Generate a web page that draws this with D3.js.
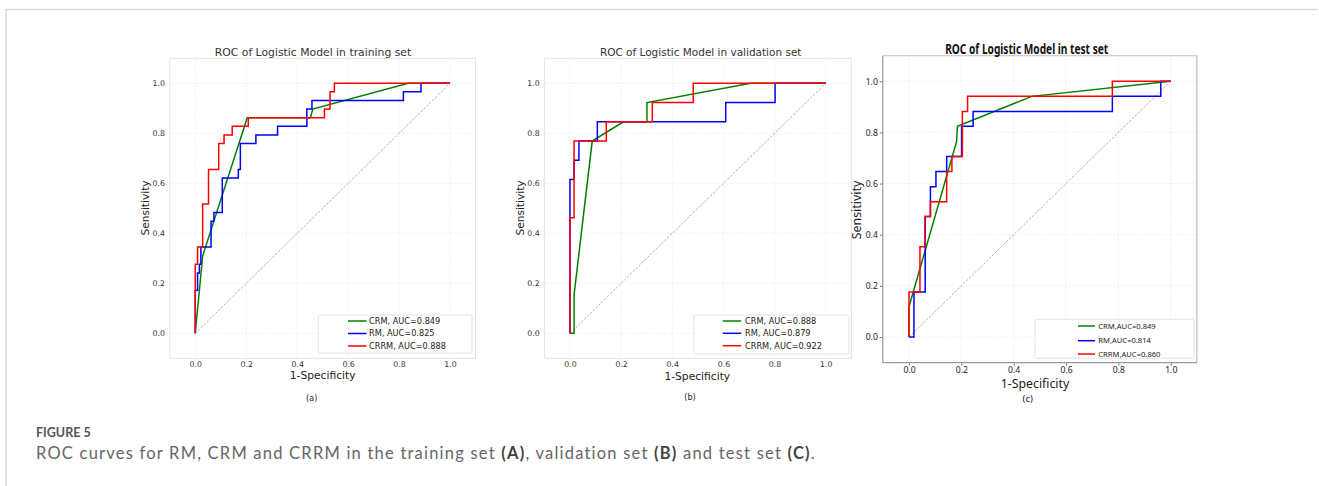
<!DOCTYPE html>
<html>
<head>
<meta charset="utf-8">
<script src="https://cdn.jsdelivr.net/npm/d3@7"></script>
<style>
  body { margin: 0; background: #fff; }
  svg { display: block; }
</style>
</head>
<body>
<div id="chart"></div>
<script>
// ---------------- data (fpr, tpr) ----------------
const tickValues = [0, 0.2, 0.4, 0.6, 0.8, 1.0];
const seriesNames = ["CRM", "RM", "CRRM"];

// (a) training set
const trainCRM = [[0,0],[0.029,0.31],[0.204,0.862],[0.452,0.862],[0.461,0.897],[0.836,1],[1,1]];
const trainRM = [[0,0],[0,0.172],[0.009,0.172],[0.009,0.241],[0.016,0.241],[0.016,0.276],[0.022,0.276],
  [0.022,0.345],[0.062,0.345],[0.062,0.448],[0.073,0.448],[0.073,0.483],[0.106,0.483],[0.106,0.621],
  [0.169,0.621],[0.169,0.655],[0.177,0.655],[0.177,0.759],[0.238,0.759],[0.238,0.793],[0.323,0.793],
  [0.323,0.828],[0.438,0.828],[0.438,0.897],[0.458,0.897],[0.458,0.931],[0.817,0.931],[0.817,0.966],
  [0.886,0.966],[0.886,1],[1,1]];
const trainCRRM = [[0,0],[0,0.276],[0.009,0.276],[0.009,0.345],[0.029,0.345],[0.029,0.517],[0.052,0.517],
  [0.052,0.655],[0.092,0.655],[0.092,0.759],[0.113,0.759],[0.113,0.793],[0.145,0.793],[0.145,0.828],
  [0.208,0.828],[0.208,0.862],[0.507,0.862],[0.507,0.897],[0.529,0.897],[0.529,0.966],[0.546,0.966],
  [0.546,1],[1,1]];
const trainLegend = ["CRM, AUC=0.849", "RM, AUC=0.825", "CRRM, AUC=0.888"];

// (b) validation set
const validCRM = [[0,0],[0.016,0],[0.016,0.154],[0.087,0.769],[0.209,0.846],[0.301,0.846],[0.301,0.923],[0.707,1],[1,1]];
const validRM = [[0,0],[0,0.615],[0.016,0.615],[0.016,0.692],[0.035,0.692],[0.035,0.769],[0.107,0.769],
  [0.107,0.846],[0.609,0.846],[0.609,0.923],[0.802,0.923],[0.802,1],[1,1]];
const validCRRM = [[0,0],[0,0.462],[0.016,0.462],[0.016,0.769],[0.142,0.769],[0.142,0.846],[0.322,0.846],
  [0.322,0.923],[0.482,0.923],[0.482,1],[1,1]];
const validLegend = ["CRM, AUC=0.888", "RM, AUC=0.879", "CRRM, AUC=0.922"];

// (c) test set
const testCRM = [[0,0],[0,0.118],[0.182,0.765],[0.185,0.824],[0.469,0.941],[1,1]];
const testRM = [[0,0],[0.019,0],[0.019,0.176],[0.062,0.176],[0.062,0.471],[0.082,0.471],[0.082,0.588],
  [0.103,0.588],[0.103,0.647],[0.144,0.647],[0.144,0.706],[0.201,0.706],[0.201,0.824],[0.245,0.824],
  [0.245,0.882],[0.777,0.882],[0.777,0.941],[0.962,0.941],[0.962,1],[1,1]];
const testCRRM = [[0,0],[0,0.176],[0.042,0.176],[0.042,0.353],[0.061,0.353],[0.061,0.471],[0.082,0.471],
  [0.082,0.529],[0.144,0.529],[0.144,0.647],[0.164,0.647],[0.164,0.706],[0.204,0.706],[0.204,0.882],
  [0.224,0.882],[0.224,0.941],[0.777,0.941],[0.777,1],[1,1]];
const testLegend = ["CRM,AUC=0.849", "RM,AUC=0.814", "CRRM,AUC=0.860"];

const colors = ["#008000", "#0000ff", "#ff0000"];

// ---------------- layout ----------------
const width = 1319, height = 486;

const panels = [
  {
    title: "ROC of Logistic Model in training set", tag: "(a)", style: "mpl",
    series: [trainCRM, trainRM, trainCRRM], legend: trainLegend,
    box: { left: 169.8, right: 475.5, top: 58.3, bottom: 358.3 },
    titlePos: [313, 55.5], titleW: 196.7,
    xLabelPos: [322.7, 379.3], yLabelPos: [148.5, 208], tagPos: [311.7, 400.5],
    leg: { x0: 318.3, x1: 472, y0: 315, y1: 353, lineX: 348, textX: 369, rows: [321, 333.5, 346] }
  },
  {
    title: "ROC of Logistic Model in validation set", tag: "(b)", style: "mpl",
    series: [validCRM, validRM, validCRRM], legend: validLegend,
    box: { left: 544.4, right: 851.3, top: 58.3, bottom: 358.3 },
    titlePos: [700.7, 55.5], titleW: 201.7,
    xLabelPos: [697.3, 380], yLabelPos: [523.5, 208], tagPos: [690, 399.5],
    leg: { x0: 694, x1: 849, y0: 315, y1: 354, lineX: 722.7, textX: 745, rows: [321, 333.3, 345.7] }
  },
  {
    title: "ROC of Logistic Model in test set", tag: "(c)", style: "win",
    series: [testCRM, testRM, testCRRM], legend: testLegend,
    box: { left: 882.8, right: 1196.9, top: 55.7, bottom: 362.6 },
    titlePos: [1026.7, 54], titleW: 163,
    xLabelPos: [1035, 387.5], yLabelPos: [861, 210], tagPos: [1027.7, 402],
    leg: { x0: 1035, x1: 1194, y0: 319.3, y1: 358.3, lineX: 1078, textX: 1098.3, rows: [326, 340.7, 354] }
  }
];

const svg = d3.select("#chart").append("svg")
  .attr("width", width)
  .attr("height", height);

// scale a text's font-size so it spans the width seen in the figure
function fitWidth(sel, target) {
  const w = sel.node().getComputedTextLength();
  if (w > 0) sel.attr("font-size", +sel.attr("font-size") * target / w);
}

// outer page frame
svg.append("line").attr("x1", 6).attr("x2", 1318).attr("y1", 9.5).attr("y2", 9.5)
  .attr("stroke", "#d9d9d9").attr("stroke-width", 1.5);
svg.append("line").attr("x1", 6).attr("x2", 6).attr("y1", 9).attr("y2", 486)
  .attr("stroke", "#cfcfcf").attr("stroke-width", 1.2);

panels.forEach(p => drawPanel(p));

function drawPanel(p) {
  const mpl = p.style === "mpl";
  const font = mpl ? "DejaVu Sans" : "Noto Sans";
  const b = p.box;

  const x = d3.scaleLinear().domain([-0.1, 1.1]).range([b.left, b.right]);
  const y = d3.scaleLinear().domain([-0.1, 1.1]).range([b.bottom, b.top]);

  const g = svg.append("g");

  // grid
  g.append("g").selectAll("line").data(tickValues).join("line")
    .attr("x1", d => x(d)).attr("x2", d => x(d))
    .attr("y1", b.top).attr("y2", b.bottom)
    .attr("stroke", "#ebebeb").attr("stroke-width", 0.8).attr("stroke-dasharray", "1.5,1.5");
  g.append("g").selectAll("line").data(tickValues).join("line")
    .attr("x1", b.left).attr("x2", b.right)
    .attr("y1", d => y(d)).attr("y2", d => y(d))
    .attr("stroke", "#ebebeb").attr("stroke-width", 0.8).attr("stroke-dasharray", "1.5,1.5");

  // axes
  const fmt = d3.format(".1f");
  const xAxis = g.append("g").attr("transform", `translate(0,${b.bottom})`)
    .call(d3.axisBottom(x).tickValues(tickValues).tickFormat(fmt).tickSize(mpl ? 0 : 3).tickPadding(mpl ? 3.5 : 1.5));
  const yAxis = g.append("g").attr("transform", `translate(${b.left},0)`)
    .call(d3.axisLeft(y).tickValues(tickValues).tickFormat(fmt).tickSize(mpl ? 0 : 3).tickPadding(mpl ? 4.8 : 2));
  [xAxis, yAxis].forEach(a => {
    a.select(".domain").remove();
    a.selectAll("line").attr("stroke", "#777");
    a.selectAll("text")
      .attr("font-family", font)
      .attr("font-size", mpl ? 7.8 : 8.6)
      .attr("fill", mpl ? "#333" : "#222");
  });

  // axes box
  const spineLight = mpl ? "#e3e3e3" : "#cfcfcf";
  const spineDark = mpl ? "#e3e3e3" : "#999";
  const sw = mpl ? 1 : 1.2;
  g.append("line").attr("x1", b.left).attr("x2", b.right).attr("y1", b.top).attr("y2", b.top)
    .attr("stroke", spineLight).attr("stroke-width", sw);
  g.append("line").attr("x1", b.right).attr("x2", b.right).attr("y1", b.top).attr("y2", b.bottom)
    .attr("stroke", mpl ? spineLight : "#bbb").attr("stroke-width", sw);
  g.append("line").attr("x1", b.left).attr("x2", b.right).attr("y1", b.bottom).attr("y2", b.bottom)
    .attr("stroke", spineDark).attr("stroke-width", sw);
  g.append("line").attr("x1", b.left).attr("x2", b.left).attr("y1", b.top).attr("y2", b.bottom)
    .attr("stroke", spineDark).attr("stroke-width", sw);

  // chance diagonal
  g.append("line")
    .attr("x1", x(0)).attr("y1", y(0)).attr("x2", x(1)).attr("y2", y(1))
    .attr("stroke", "#9a9a9a").attr("stroke-width", 0.8).attr("stroke-dasharray", "2.5,1.5");

  // ROC curves
  const line = d3.line().x(d => x(d[0])).y(d => y(d[1]));
  p.series.forEach((s, i) => {
    g.append("path")
      .datum(s)
      .attr("d", line)
      .attr("fill", "none")
      .attr("stroke", colors[i])
      .attr("stroke-width", 1.5)
      .attr("stroke-linejoin", "miter");
  });

  // legend
  const L = p.leg;
  g.append("rect")
    .attr("x", L.x0).attr("y", L.y0)
    .attr("width", L.x1 - L.x0).attr("height", L.y1 - L.y0)
    .attr("fill", "#fff").attr("stroke", "#dcdcdc").attr("stroke-width", 0.8).attr("rx", 1.5);
  p.legend.forEach((t, i) => {
    g.append("line")
      .attr("x1", L.lineX).attr("x2", L.lineX + (mpl ? 18.5 : 17))
      .attr("y1", L.rows[i]).attr("y2", L.rows[i])
      .attr("stroke", colors[i]).attr("stroke-width", 1.5);
    g.append("text")
      .attr("x", L.textX).attr("y", L.rows[i]).attr("dy", "0.35em")
      .attr("font-family", font).attr("font-size", mpl ? 8.2 : 7.6)
      .attr("fill", "#222")
      .text(t);
  });

  // titles and labels
  const title = g.append("text")
    .attr("x", p.titlePos[0]).attr("y", p.titlePos[1])
    .attr("text-anchor", "middle")
    .attr("font-family", font)
    .attr("font-size", mpl ? 10.8 : 14)
    .attr("font-weight", mpl ? "normal" : "bold")
    .attr("fill", mpl ? "#333" : "#111")
    .text(p.title);
  if (mpl) {
    fitWidth(title, p.titleW);
  } else {
    // condensed heading in the original: squeeze glyphs to the measured width
    title.attr("textLength", p.titleW).attr("lengthAdjust", "spacingAndGlyphs");
  }

  g.append("text")
    .attr("x", p.xLabelPos[0]).attr("y", p.xLabelPos[1])
    .attr("text-anchor", "middle")
    .attr("font-family", font).attr("font-size", mpl ? 10.7 : 12.3)
    .attr("fill", "#222")
    .text("1-Specificity");

  g.append("text")
    .attr("transform", `translate(${p.yLabelPos[0]},${p.yLabelPos[1]}) rotate(-90)`)
    .attr("text-anchor", "middle")
    .attr("font-family", font).attr("font-size", mpl ? 10.6 : 12.4)
    .attr("fill", "#222")
    .text("Sensitivity");

  g.append("text")
    .attr("x", p.tagPos[0]).attr("y", p.tagPos[1])
    .attr("text-anchor", "middle")
    .attr("font-family", font).attr("font-size", mpl ? 8 : 9.5)
    .attr("fill", "#222")
    .text(p.tag);
}

// caption
svg.append("text")
  .attr("x", 36).attr("y", 437.3)
  .attr("font-family", "Lato").attr("font-size", 12.5).attr("font-weight", "bold")
  .attr("fill", "#555")
  .text("FIGURE 5");

const captionParts = [["ROC curves for RM, CRM and CRRM in the training set ", false], ["(A)", true],
  [", validation set ", false], ["(B)", true], [" and test set ", false], ["(C)", true], [".", false]];
const caption = svg.append("text")
  .attr("x", 36).attr("y", 458.5)
  .attr("font-family", "Lato").attr("font-size", 16.5)
  .attr("fill", "#666");
captionParts.forEach(([t, bold]) => {
  caption.append("tspan")
    .attr("font-weight", bold ? "bold" : "normal")
    .attr("fill", bold ? "#444" : "#666")
    .text(t);
});
// the original face is wider than Lato: open the spacing until the line ends where it does there
const capChars = captionParts.map(d => d[0]).join("").length;
const capW = caption.node().getComputedTextLength();
caption.attr("letter-spacing", Math.max(0, (779 - capW) / (capChars - 1)));
</script>
</body>
</html>
